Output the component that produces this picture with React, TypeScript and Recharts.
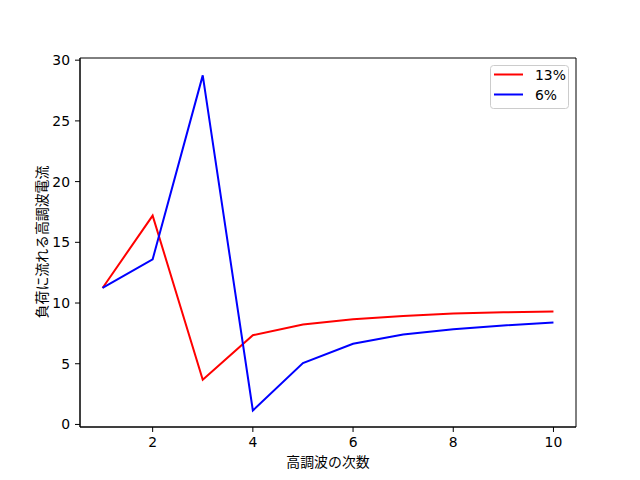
import { LineChart, Line, XAxis, YAxis, Legend, ReferenceArea } from 'recharts';

// 高調波の次数 と 負荷に流れる高調波電流（リアクトル 13% / 6%）
const HARMONIC_ORDER = [1, 2, 3, 4, 5, 6, 7, 8, 9, 10];
const CURRENT_13 = [11.24, 17.2, 3.68, 7.35, 8.23, 8.67, 8.93, 9.14, 9.24, 9.3];
const CURRENT_6 = [11.24, 13.6, 28.75, 1.15, 5.05, 6.64, 7.41, 7.85, 8.15, 8.4];

const X_TICKS = [2, 4, 6, 8, 10];
const Y_TICKS = [0, 5, 10, 15, 20, 25, 30];

const SERIES = [
  { key: 'r13', label: '13%', color: '#ff0000' },
  { key: 'r6', label: '6%', color: '#0000ff' },
];

const X_LABEL = '高調波の次数';
const Y_LABEL = '負荷に流れる高調波電流';

const X_DOMAIN = [0.55, 10.45];
const Y_DOMAIN = [-0.21, 30.18];

const data = HARMONIC_ORDER.map((n, i) => ({
  n,
  r13: CURRENT_13[i],
  r6: CURRENT_6[i],
}));

const TICK_FONT = { fill: '#000', fontSize: 13.9, fontFamily: 'DejaVu Sans' };
const CJK_FONT = "'Noto Sans CJK JP', 'DejaVu Sans', sans-serif";

function LegendBox() {
  return (
    <svg width={80} height={45} style={{ display: 'block' }}>
      <rect x={0.5} y={0.5} width={78} height={43} rx={3} fill="#fff" fillOpacity={0.8} stroke="#cccccc" />
      {SERIES.map((s, i) => (
        <g key={s.key}>
          <line x1={4} x2={33} y1={9.5 + i * 20} y2={9.5 + i * 20} stroke={s.color} strokeWidth={2} />
          <text
            x={45}
            y={9.5 + i * 20}
            dominantBaseline="central"
            fontSize={13.9}
            fontFamily="DejaVu Sans"
            fill="#000"
          >
            {s.label}
          </text>
        </g>
      ))}
    </svg>
  );
}

export default function App() {
  return (
    <div style={{ position: 'absolute', left: 0, top: 0, width: 640, height: 480, background: '#fff' }}>
      <LineChart width={640} height={480} data={data} margin={{ top: 58, right: 64, bottom: 23, left: 30 }}>
        <XAxis
          dataKey="n"
          type="number"
          domain={X_DOMAIN}
          allowDataOverflow
          ticks={X_TICKS}
          tick={TICK_FONT}
          tickSize={5}
          tickMargin={5}
          tickLine={{ stroke: '#000' }}
          axisLine={{ stroke: '#000' }}
          height={30}
          label={{
            content: () => (
              <text x={328} y={461} textAnchor="middle" dominantBaseline="central" fontSize={13.9} fontFamily={CJK_FONT} fill="#000">
                {X_LABEL}
              </text>
            ),
          }}
        />
        <YAxis
          type="number"
          domain={Y_DOMAIN}
          allowDataOverflow
          ticks={Y_TICKS}
          tick={TICK_FONT}
          tickSize={5}
          tickMargin={5}
          tickLine={{ stroke: '#000' }}
          axisLine={{ stroke: '#000' }}
          width={50}
          label={{
            content: () => (
              <text
                x={41}
                y={242}
                transform="rotate(-90 41 242)"
                textAnchor="middle"
                dominantBaseline="central"
                fontSize={13.9}
                fontFamily={CJK_FONT}
                fill="#000"
              >
                {Y_LABEL}
              </text>
            ),
          }}
        />
        {/* frame of the plot area (matplotlib spines) */}
        <ReferenceArea
          x1={X_DOMAIN[0]}
          x2={X_DOMAIN[1]}
          y1={Y_DOMAIN[0]}
          y2={Y_DOMAIN[1]}
          fill="none"
          stroke="#000"
          strokeWidth={1}
          ifOverflow="visible"
        />
        {SERIES.map(s => (
          <Line
            key={s.key}
            type="linear"
            dataKey={s.key}
            name={s.label}
            stroke={s.color}
            strokeWidth={2}
            dot={false}
            activeDot={false}
            isAnimationActive={false}
          />
        ))}
        <Legend
          layout="horizontal"
          align="center"
          verticalAlign="middle"
          content={() => <LegendBox />}
          wrapperStyle={{ position: 'absolute', left: 490, top: 65, width: 80, height: 45 }}
        />
      </LineChart>
    </div>
  );
}
